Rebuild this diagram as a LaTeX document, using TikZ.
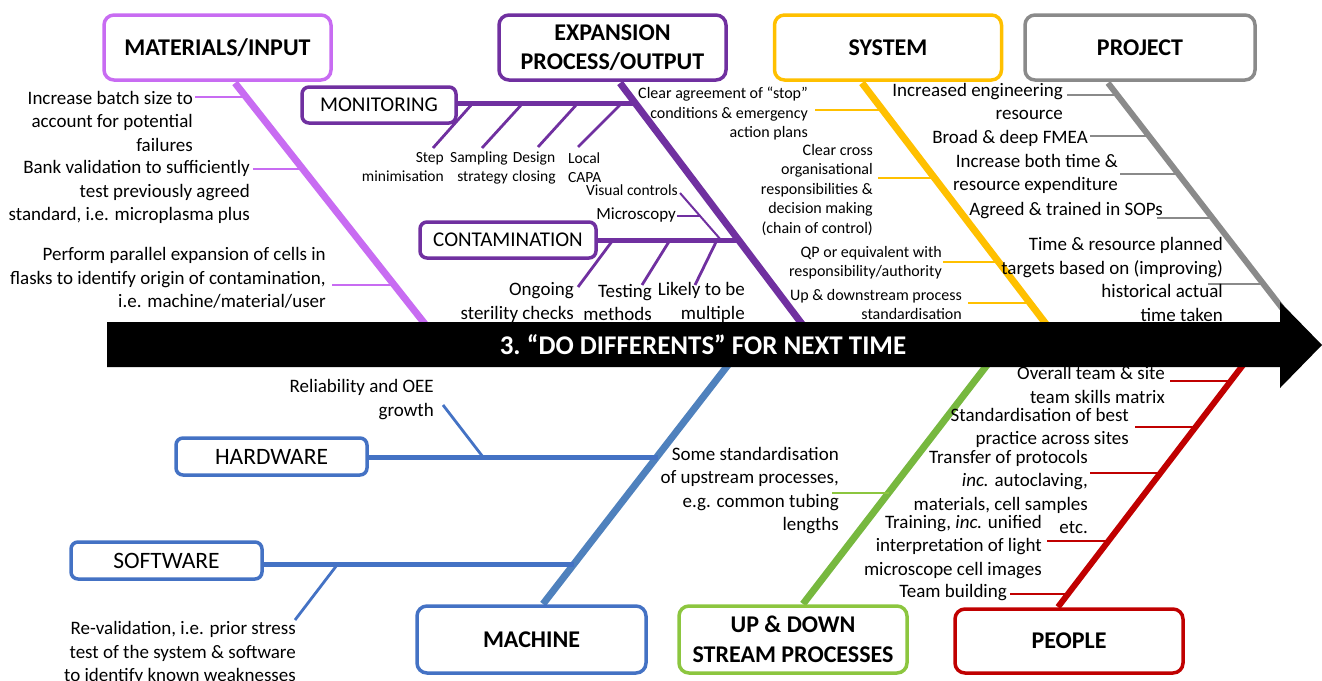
\documentclass[tikz,border=0pt]{standalone}
\usepackage{fontspec}
\setmainfont{Carlito}
\usetikzlibrary{calc}
\definecolor{cmat}{HTML}{C86CF2}
\definecolor{cexp}{HTML}{7030A0}
\definecolor{csys}{HTML}{FFC000}
\definecolor{cproj}{HTML}{8A8A8A}
\definecolor{cmachline}{HTML}{4F81BD}
\definecolor{cmachbox}{HTML}{4472C4}
\definecolor{cupline}{HTML}{77B83F}
\definecolor{cupbox}{HTML}{8CC63F}
\definecolor{cpeople}{HTML}{C00000}
\begin{document}
\begin{tikzpicture}[x=1pt,y=-1pt,
  tbox/.style={draw, line width=3.5pt, rounded corners=10pt, fill=white, inner sep=0pt,
    font=\bfseries\fontsize{24}{29}\selectfont, align=center, minimum width=227pt, minimum height=65pt},
  subbox/.style={draw, line width=3.5pt, rounded corners=7pt, fill=white, inner sep=0pt,
    font=\fontsize{21}{24}\selectfont, minimum height=36pt},
  lbl/.style={inner sep=0pt, align=right, anchor=east, font=\fontsize{19}{23.5}\selectfont},
  slbl/.style={inner sep=0pt, align=right, anchor=east, font=\fontsize{16}{19.5}\selectfont},
  mlbl/.style={inner sep=0pt, font=\fontsize{15.5}{19}\selectfont},
  spine/.style={line width=7pt},
  sub/.style={line width=5pt},
  rib/.style={line width=2.8pt}]
\useasboundingbox (0,0) rectangle (1322,680);
\clip (0,0) rectangle (1322,680);

% ---------------- coordinates ----------------
% spines
\coordinate (matT) at (235,83);   \coordinate (matB) at (425,324);
\coordinate (expT) at (620,83);   \coordinate (expB) at (802,324);
\coordinate (sysT) at (862,83);   \coordinate (sysB) at (1046,324);
\coordinate (prjT) at (1108,83);  \coordinate (prjB) at (1282,308);
\coordinate (macT) at (728,365);  \coordinate (macB) at (543,604);
\coordinate (updT) at (987,365);  \coordinate (updB) at (803,604);
\coordinate (peoT) at (1243,365); \coordinate (peoB) at (1058,607);

% materials ribs
\coordinate (mr1a) at (195,97);  \coordinate (mr1b) at (248,97);
\coordinate (mr2a) at (253,169); \coordinate (mr2b) at (304,169);
\coordinate (mr3a) at (332,285); \coordinate (mr3b) at (396,285);
% monitoring & contamination
\coordinate (monE) at (636,103);
\coordinate (mo1a) at (473,103); \coordinate (mo1b) at (433,148);
\coordinate (mo2a) at (523,103); \coordinate (mo2b) at (482,148);
\coordinate (mo3a) at (578,103); \coordinate (mo3b) at (538,147);
\coordinate (mo4a) at (622,103); \coordinate (mo4b) at (578,147);
\coordinate (conE) at (738,240);
\coordinate (co1a) at (613,240); \coordinate (co1b) at (578,287);
\coordinate (co2a) at (670,240); \coordinate (co2b) at (642,285);
\coordinate (co3a) at (717,240); \coordinate (co3b) at (695,285);
\coordinate (visA) at (680,193); \coordinate (visB) at (721,240);
\coordinate (micA) at (677,216); \coordinate (micB) at (701,216);
% system ribs
\coordinate (sy1a) at (815,110);  \coordinate (sy1b) at (883,110);
\coordinate (sy2a) at (878,178);  \coordinate (sy2b) at (935,178);
\coordinate (sy3a) at (943,262);  \coordinate (sy3b) at (999,262);
\coordinate (sy4a) at (968,303);  \coordinate (sy4b) at (1030,303);
% project ribs
\coordinate (pr1a) at (1067,95);  \coordinate (pr1b) at (1117,95);
\coordinate (pr2a) at (1090,136); \coordinate (pr2b) at (1149,136);
\coordinate (pr3a) at (1120,174); \coordinate (pr3b) at (1178,174);
\coordinate (pr4a) at (1157,218); \coordinate (pr4b) at (1212,218);
\coordinate (pr5a) at (1208,284); \coordinate (pr5b) at (1264,284);
% machine
\coordinate (hwE) at (658,457);
\coordinate (swE) at (574,564);
\coordinate (hwrA) at (443,405); \coordinate (hwrB) at (483,457);
\coordinate (swrA) at (337,565); \coordinate (swrB) at (295,620);
% up & down
\coordinate (ud1a) at (832,493); \coordinate (ud1b) at (889,493);
% people
\coordinate (pe1a) at (1170,381); \coordinate (pe1b) at (1232,381);
\coordinate (pe2a) at (1135,427); \coordinate (pe2b) at (1197,427);
\coordinate (pe3a) at (1090,473); \coordinate (pe3b) at (1161,473);
\coordinate (pe4a) at (1047,541); \coordinate (pe4b) at (1109,541);
\coordinate (pe5a) at (1010,594); \coordinate (pe5b) at (1068,594);

% ---------------- spines and ribs ----------------
\draw[spine, cmat] (matT) -- (matB);
\draw[rib, cmat] (mr1a) -- (mr1b);
\draw[rib, cmat] (mr2a) -- (mr2b);
\draw[rib, cmat] (mr3a) -- (mr3b);

\draw[spine, cexp] (expT) -- (expB);
\draw[sub, cexp] (379,103) -- (monE);
\draw[rib, cexp] (mo1a) -- (mo1b);
\draw[rib, cexp] (mo2a) -- (mo2b);
\draw[rib, cexp] (mo3a) -- (mo3b);
\draw[rib, cexp] (mo4a) -- (mo4b);
\draw[sub, cexp] (508,240) -- (conE);
\draw[rib, cexp] (co1a) -- (co1b);
\draw[rib, cexp] (co2a) -- (co2b);
\draw[rib, cexp] (co3a) -- (co3b);
\draw[line width=2pt, cexp] (visA) -- (visB);
\draw[line width=2pt, cexp] (micA) -- (micB);

\draw[spine, csys] (sysT) -- (sysB);
\draw[rib, csys] (sy1a) -- (sy1b);
\draw[rib, csys] (sy2a) -- (sy2b);
\draw[rib, csys] (sy3a) -- (sy3b);
\draw[rib, csys] (sy4a) -- (sy4b);

\draw[line width=6pt, cproj] (prjT) -- (prjB);
\draw[rib, cproj] (pr1a) -- (pr1b);
\draw[rib, cproj] (pr2a) -- (pr2b);
\draw[rib, cproj] (pr3a) -- (pr3b);
\draw[rib, cproj] (pr4a) -- (pr4b);
\draw[rib, cproj] (pr5a) -- (pr5b);

\draw[spine, cmachline] (macT) -- (macB);
\draw[sub, cmachbox] (271,457) -- (hwE);
\draw[sub, cmachbox] (166,564) -- (swE);
\draw[rib, cmachbox] (hwrA) -- (hwrB);
\draw[rib, cmachbox] (swrA) -- (swrB);

\draw[spine, cupline] (updT) -- (updB);
\draw[rib, cupbox] (ud1a) -- (ud1b);

\draw[line width=6pt, cpeople] (peoT) -- (peoB);
\draw[rib, cpeople] (pe1a) -- (pe1b);
\draw[rib, cpeople] (pe2a) -- (pe2b);
\draw[rib, cpeople] (pe3a) -- (pe3b);
\draw[rib, cpeople] (pe4a) -- (pe4b);
\draw[rib, cpeople] (pe5a) -- (pe5b);

% ---------------- main arrow ----------------
\fill[black] (107,322) -- (1280,322) -- (1280,302) -- (1322,345) -- (1280,388)
  -- (1280,367) -- (107,367) -- cycle;
\node[text=white, font=\bfseries\fontsize{27}{30}\selectfont, inner sep=0pt] (head) at (703,345)
  {3.~“DO DIFFERENTS” FOR NEXT TIME};

% ---------------- boxes ----------------
\node[tbox, draw=cmat] (mat) at (217.5,47.5) {MATERIALS/INPUT};
\node[tbox, draw=cexp] (exp) at (612.5,47.5) {EXPANSION\\PROCESS/OUTPUT};
\node[tbox, draw=csys] (sys) at (888,47.5) {SYSTEM};
\node[tbox, draw=cproj, minimum width=230pt] (prj) at (1140,47.5) {PROJECT};
\node[subbox, draw=cexp, minimum width=154pt] (mon) at (379,105) {MONITORING};
\node[subbox, draw=cexp, minimum width=176pt] (con) at (508,240) {CONTAMINATION};
\node[subbox, draw=cmachbox, minimum width=191pt, minimum height=37pt,
  font=\fontsize{23.5}{26}\selectfont] (hw) at (271.5,456.5) {HARDWARE};
\node[subbox, draw=cmachbox, minimum width=191pt, minimum height=37pt,
  font=\fontsize{23.5}{26}\selectfont] (sw) at (166.5,560.5) {SOFTWARE};
\node[tbox, draw=cmachbox, minimum width=229pt, minimum height=67pt] (mac) at (531.5,639.5) {MACHINE};
\node[tbox, draw=cupbox, minimum width=228pt, minimum height=67pt, font=\bfseries\fontsize{24}{30}\selectfont]
  (upd) at (793,639.5) {UP \& DOWN\\STREAM PROCESSES};
\node[tbox, draw=cpeople, minimum width=228pt, minimum height=64pt] (peo) at (1069,641) {PEOPLE};

% ---------------- labels ----------------
% materials
\node[lbl] (m1) at (193,121) {Increase batch size to\\account for potential\\failures};
\node[lbl] (m2) at (250,192) {Bank validation to sufficiently\\test previously agreed\\standard, i.e. microplasma plus};
\node[lbl] (m3) at (326,278) {Perform parallel expansion of cells in\\flasks to identify origin of contamination,\\i.e. machine/material/user};
% monitoring
\node[mlbl, anchor=east, align=right] (mo1) at (444,167.5) {Step\\minimisation};
\node[mlbl, anchor=east, align=right] (mo2) at (508,167.5) {Sampling\\strategy};
\node[mlbl, align=center] (mo3) at (534,167.5) {Design\\closing};
\node[mlbl, anchor=west, align=left] (mo4) at (568,167.5) {Local\\CAPA};
\node[mlbl, anchor=east, font=\fontsize{15.5}{18}\selectfont] (vis) at (678,190) {Visual controls};
\node[mlbl, anchor=east, font=\fontsize{17}{20}\selectfont] (mic) at (676,215) {Microscopy};
% contamination
\node[lbl] (co1) at (574,302.5) {Ongoing\\sterility checks};
\node[lbl] (co2) at (652,302.5) {Testing\\methods};
\node[lbl] (co3) at (745,302.5) {Likely to be\\multiple};
% system
\node[slbl] (s1) at (808,114) {Clear agreement of “stop”\\conditions \& emergency\\action plans};
\node[slbl] (s2) at (873,190) {Clear cross\\organisational\\responsibilities \&\\decision making\\(chain of control)};
\node[slbl] (s3) at (942,262.5) {QP or equivalent with\\responsibility/authority};
\node[slbl] (s4) at (962,304.5) {Up \& downstream process\\standardisation};
% project
\node[lbl] (p1) at (1063,101.5) {Increased engineering\\resource};
\node[lbl] (p2) at (1088,138) {Broad \& deep FMEA};
\node[lbl] (p3) at (1118,174) {Increase both time \&\\resource expenditure};
\node[lbl] (p4) at (1163,211) {Agreed \& trained in SOPs};
\node[lbl] (p5) at (1223,279.5) {Time \& resource planned\\targets based on (improving)\\historical actual\\time taken};
% machine
\node[lbl] (h1) at (434,399.5) {Reliability and OEE\\growth};
\node[lbl] (sw1) at (296,653) {Re-validation, i.e. prior stress\\test of the system \& software\\to identify known weaknesses};
% up & down
\node[lbl] (u1) at (839,490.5) {Some standardisation\\of upstream processes,\\e.g. common tubing\\lengths};
% people
\node[lbl] (pe1) at (1165,385) {Overall team \& site\\team skills matrix};
\node[lbl] (pe2) at (1129,428) {Standardisation of best\\practice across sites};
\node[lbl] (pe3) at (1088,492) {Transfer of protocols\\\textit{inc.} autoclaving,\\materials, cell samples\\etc.};
\node[lbl] (pe4) at (1042,547) {Training, \textit{inc.} unified\\interpretation of light\\microscope cell images};
\node[lbl] (pe5) at (1007,593) {Team building};
\end{tikzpicture}
\end{document}
